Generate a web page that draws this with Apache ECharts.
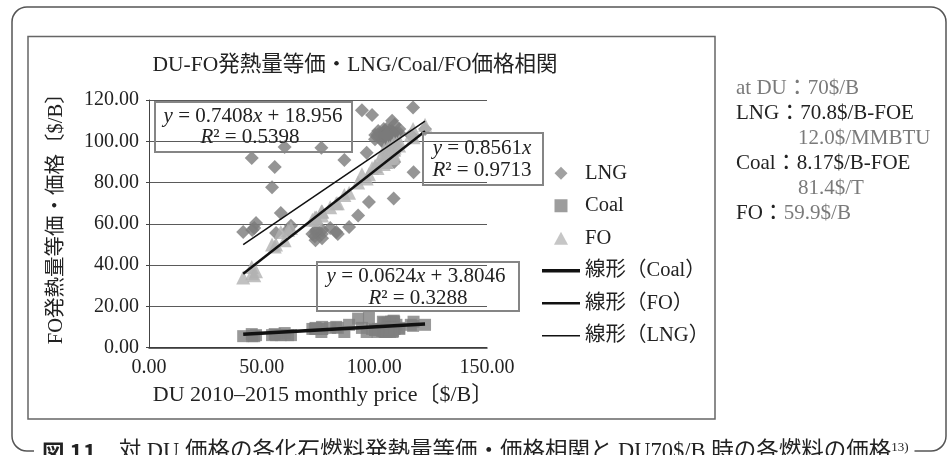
<!DOCTYPE html>
<html><head><meta charset="utf-8">
<script src="https://cdn.jsdelivr.net/npm/echarts@6/dist/echarts.min.js"></script>
<style>html,body{margin:0;padding:0;background:#fff}#c{width:948px;height:455px}</style>
</head><body><div id="c"></div>
<script>
const SERIF = "'Liberation Serif','Noto Sans CJK JP',serif";

// DU monthly price (x), 2010-01 .. 2015-11
const duPrice = [
  76.7,73.6,76.9,83.8,76.8,73.9,72.5,74.1,74.3,80.4,83.1,88.8,
  92.8,97.6,108.6,117.4,108.8,107.4,108.2,103.8,105.9,104.4,108.7,106.8,
  109.8,116.2,122.5,117.2,107.9,94.5,99.0,109.0,111.1,108.5,107.2,106.3,
  107.8,111.0,105.4,101.7,100.4,100.3,103.5,107.0,108.3,106.3,106.0,107.9,
  104.0,105.0,104.2,104.6,105.5,108.1,105.1,101.4,96.6,86.7,76.5,60.2,
  45.6,55.8,54.6,58.5,63.0,61.7,56.4,47.5,45.8,46.7,41.8
];
const lngPrice = [
  55,54,57,55,53,52,55,56,57,58,56,58.4,
  64,70.5,72.3,85,90,95,98,100,101,102,104,105,
  104,103,106,116.4,110,115,112.7,108,106,104,103,104,
  105,104,106,105,103,101,100,100,101,102,103,104,
  104,105,106,105,104,103,103,103,94.4,90.9,96.9,97.2,
  91.9,87.5,77.7,65.2,59,57,55.5,60.4,57,58,56
];
const coalPrice = [
  9,9,9,9.5,10,9.5,9,9,9,9.5,10,11,
  14,14.5,13,12.5,12.5,12.5,12.5,12.5,12,12,11.5,11,
  11,11,11,10.5,10,9.5,9,9,9,9,9.5,9.5,
  9.5,9.5,9,9,8.5,8.5,8,7.5,8,8,8.5,8.5,
  8.5,8,8,7.5,7.5,7.5,7.5,7.5,7.5,7.5,7.5,7,
  6.5,6.5,6,6,6,6,6,6,5.5,5.5,5.5
];
const foPrice = [
  66,63,66,70,64,62,62,63,63,68,70,75,
  80,84,94,102,96,96,97,94,97,96,99,97,
  99,103,108,106,98,84,87,97,100,96,93,95,
  95,98,93,90,88,88,91,92,93,92,92,93,
  90,90,89,90,90,92,90,87,82,74,66,52,
  39,49,50,56,58,57,50,37,36,35,34
];
// linear trend line end points
const trendX = [41.8, 122.5];
const trendCoal = [6.41, 11.45];
const trendFO = [35.78, 104.87];
const trendLNG = [49.92, 109.70];

const seriesNames = ['LNG','Coal','FO','線形（Coal）','線形（FO）','線形（LNG）'];

const zip = (xs, ys) => xs.map((x,i)=>[x, ys[i]]);

const chart = echarts.init(document.getElementById('c'));

const eqRich = {
  i: {fontStyle:'italic', fontSize:21, fontFamily:SERIF, fill:'#222'},
  n: {fontSize:21, fontFamily:SERIF, fill:'#222'}
};

const legendIcons = {
  'LNG':'path://M6,0L12,6L6,12L0,6Z',
  'Coal':'path://M0,0H12V12H0Z',
  'FO':'path://M6.5,0L13,12L0,12Z',
  '線形（Coal）':'path://M0,0H38V3.5H0Z',
  '線形（FO）':'path://M0,0H38V2.6H0Z',
  '線形（LNG）':'path://M0,0H38V1.6H0Z'
};
const legendColors = {
  'LNG':'#8a8a8a','Coal':'#858585','FO':'#b8b8b8',
  '線形（Coal）':'#111','線形（FO）':'#111','線形（LNG）':'#111'
};

chart.setOption({
  animation:false,
  backgroundColor:'#fff',
  grid:{left:149, right:461, top:100, bottom:107.5, containLabel:false},
  xAxis:{
    type:'value', min:0, max:150, interval:50,
    name:'DU 2010‒2015 monthly price〔$/B〕',
    nameLocation:'middle', nameGap:37,
    nameTextStyle:{fontFamily:SERIF, fontSize:22, color:'#222', padding:[0,0,0,10]},
    axisLine:{show:true, lineStyle:{color:'#333', width:1.5}},
    axisTick:{show:false},
    splitLine:{show:false},
    axisLabel:{fontFamily:SERIF, fontSize:20, color:'#222', margin:10, formatter:v=>v.toFixed(2)}
  },
  yAxis:{
    type:'value', min:0, max:120, interval:20,
    name:'FO発熱量等価・価格〔$/B〕',
    nameLocation:'middle', nameGap:82, nameRotate:90,
    nameTextStyle:{fontFamily:SERIF, fontSize:20.5, color:'#222', padding:[0,0,0,20]},
    axisLine:{show:true, lineStyle:{color:'#444', width:1}},
    axisTick:{show:true, length:3, lineStyle:{color:'#444'}},
    splitLine:{show:true, lineStyle:{color:'#5a5a5a', width:1}},
    axisLabel:{fontFamily:SERIF, fontSize:20, color:'#222', margin:10, formatter:v=>v.toFixed(2)}
  },
  legend:{
    orient:'vertical', left:542, top:163, padding:0,
    itemWidth:38, itemHeight:13, itemGap:12,
    textStyle:{fontFamily:SERIF, fontSize:20.5, color:'#222'},
    data:seriesNames.map(n=>({name:n, icon:legendIcons[n], itemStyle:{color:legendColors[n], borderWidth:0}}))
  },
  series:[
    {name:'LNG', type:'scatter', symbol:'diamond', symbolSize:[14,14],
     itemStyle:{color:'#7b7b7b'}, data:zip(duPrice, lngPrice), z:2},
    {name:'Coal', type:'scatter', symbol:'rect', symbolSize:[12,12],
     itemStyle:{color:'#808080'}, data:zip(duPrice, coalPrice), z:3},
    {name:'FO', type:'scatter', symbol:'triangle', symbolSize:[14,14],
     itemStyle:{color:'#b2b2b2'}, data:zip(duPrice, foPrice), z:4},
    {name:'線形（Coal）', type:'line', symbol:'none', z:5,
     lineStyle:{color:'#111', width:3.5}, itemStyle:{color:'#111'}, data:zip(trendX, trendCoal)},
    {name:'線形（FO）', type:'line', symbol:'none', z:5,
     lineStyle:{color:'#111', width:2.5}, itemStyle:{color:'#111'}, data:zip(trendX, trendFO)},
    {name:'線形（LNG）', type:'line', symbol:'none', z:5,
     lineStyle:{color:'#111', width:1.5}, itemStyle:{color:'#111'}, data:zip(trendX, trendLNG)}
  ],
  graphic:[
    // outer rounded frame
    {type:'rect', z:1, shape:{x:12, y:7, width:934, height:444, r:15},
     style:{fill:'none', stroke:'#555', lineWidth:1.5}},
    // chart frame
    {type:'rect', z:1, shape:{x:28, y:36.5, width:687, height:382.5},
     style:{fill:'none', stroke:'#666', lineWidth:1.5}},
    // title
    {type:'text', x:355, y:65, z:100,
     style:{text:'DU-FO発熱量等価・LNG/Coal/FO価格相関', font:'21.5px '+SERIF, fill:'#222', align:'center', verticalAlign:'middle'}},
    // regression boxes
    {type:'rect', z:100, shape:{x:155, y:102, width:197, height:50},
     style:{fill:'none', stroke:'#858585', lineWidth:2}},
    {type:'text', x:253, y:116, z:100,
     style:{text:'{i|y}{n| = 0.7408}{i|x}{n| + 18.956}', rich:eqRich, align:'center', verticalAlign:'middle'}},
    {type:'text', x:250, y:137, z:100,
     style:{text:'{i|R}{n|² = 0.5398}', rich:eqRich, align:'center', verticalAlign:'middle'}},
    {type:'rect', z:100, shape:{x:423, y:133, width:120, height:52},
     style:{fill:'none', stroke:'#858585', lineWidth:2}},
    {type:'text', x:482, y:148, z:100,
     style:{text:'{i|y}{n| = 0.8561}{i|x}', rich:eqRich, align:'center', verticalAlign:'middle'}},
    {type:'text', x:482, y:170, z:100,
     style:{text:'{i|R}{n|² = 0.9713}', rich:eqRich, align:'center', verticalAlign:'middle'}},
    {type:'rect', z:100, shape:{x:317, y:262, width:202, height:49},
     style:{fill:'none', stroke:'#858585', lineWidth:2}},
    {type:'text', x:416, y:276, z:100,
     style:{text:'{i|y}{n| = 0.0624}{i|x}{n| + 3.8046}', rich:eqRich, align:'center', verticalAlign:'middle'}},
    {type:'text', x:418, y:298, z:100,
     style:{text:'{i|R}{n|² = 0.3288}', rich:eqRich, align:'center', verticalAlign:'middle'}},
    // right-side notes
    {type:'text', x:736, y:88, z:100,
     style:{text:'at DU：70$/B', font:'21px '+SERIF, fill:'#7a7a7a', verticalAlign:'middle'}},
    {type:'text', x:736, y:113, z:100,
     style:{text:'LNG：70.8$/B-FOE', font:'21px '+SERIF, fill:'#222', verticalAlign:'middle'}},
    {type:'text', x:798, y:138, z:100,
     style:{text:'12.0$/MMBTU', font:'21px '+SERIF, fill:'#7a7a7a', verticalAlign:'middle'}},
    {type:'text', x:736, y:163, z:100,
     style:{text:'Coal：8.17$/B-FOE', font:'21px '+SERIF, fill:'#222', verticalAlign:'middle'}},
    {type:'text', x:798, y:188, z:100,
     style:{text:'81.4$/T', font:'21px '+SERIF, fill:'#7a7a7a', verticalAlign:'middle'}},
    {type:'text', x:736, y:213, z:100,
     style:{text:'{d|FO：}{g|59.9$/B}', verticalAlign:'middle',
       rich:{d:{fontSize:21, fontFamily:SERIF, fill:'#222'}, g:{fontSize:21, fontFamily:SERIF, fill:'#7a7a7a'}}}},
    // caption
    {type:'text', x:34, y:452, z:100,
     style:{text:'{b|図 11}{n|　対 DU 価格の各化石燃料発熱量等価・価格相関と DU70$/B 時の各燃料の価格}{s|13)}',
       verticalAlign:'middle', backgroundColor:'#fff', padding:[2,6,2,8],
       rich:{
         b:{fontSize:22.5, fontWeight:'bold', fontFamily:"'Noto Sans CJK JP',sans-serif", fill:'#222'},
         n:{fontSize:22.5, fontFamily:SERIF, fill:'#222'},
         s:{fontSize:13, fontFamily:SERIF, fill:'#222', verticalAlign:'top'}
       }}}
  ]
});
</script></body></html>
